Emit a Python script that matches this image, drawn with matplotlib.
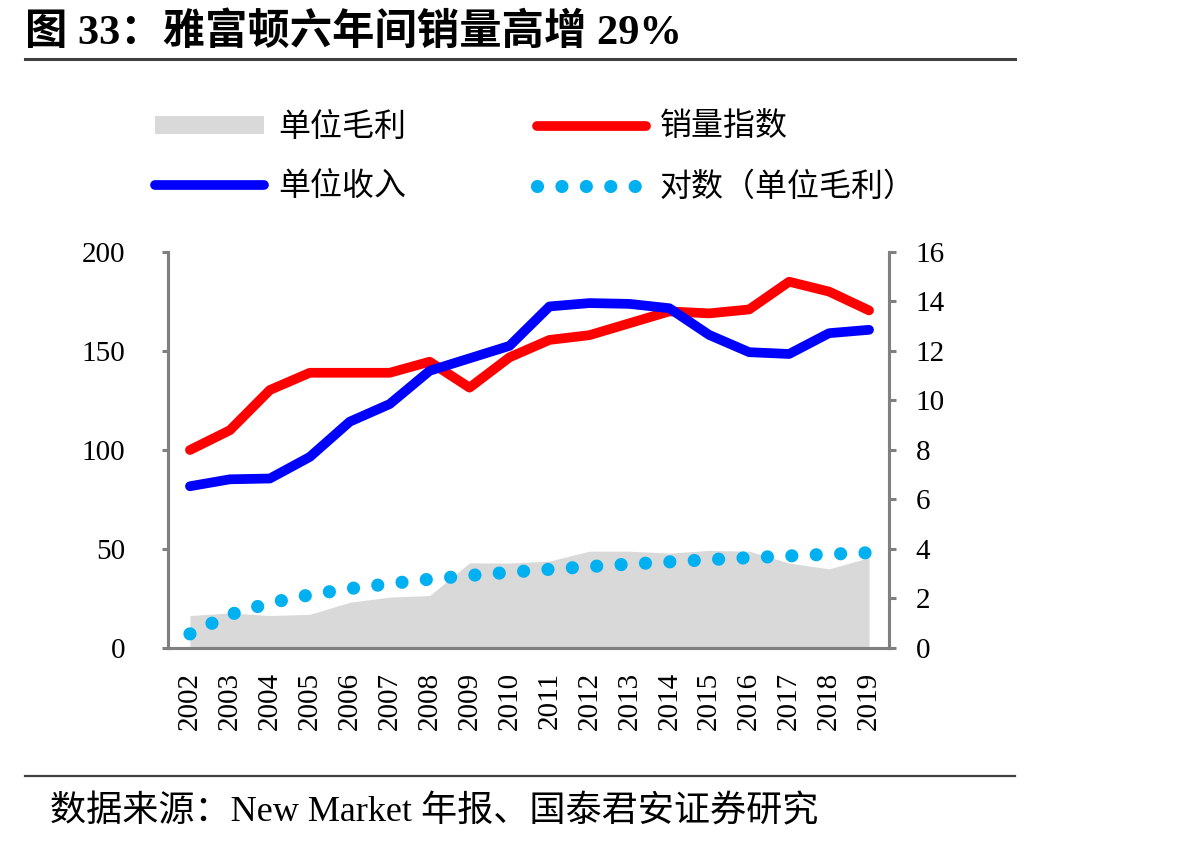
import matplotlib
matplotlib.use('Agg')
import matplotlib.pyplot as plt
import matplotlib.patches as mpatches
from matplotlib.lines import Line2D
import numpy as np

plt.rcParams['font.family'] = ['Liberation Serif', 'Noto Sans CJK SC', 'DejaVu Sans']

years = [str(y) for y in range(2002, 2020)]
# 单位毛利 (left axis)
gross_margin = [16.4, 17.7, 16.4, 17.0, 23.1, 25.7, 26.5, 43.0, 42.9, 43.9,
                48.9, 48.9, 47.9, 49.3, 48.9, 42.9, 40.0, 45.6]
# 销量指数 (left axis)
sales_index = [100, 110, 130.3, 139, 139, 139, 144.6, 131.5, 146.8, 155.6,
               158, 164, 170, 169, 171, 185, 180, 170.5]
# 单位收入 (left axis)
unit_revenue = [81.7, 85.2, 85.6, 96.5, 114.3, 123.2, 140, 146.3, 152.6, 172.5,
                174.2, 173.8, 171.6, 158.1, 149.4, 148.5, 159, 160.7]
# 对数(单位毛利) trendline
log_trend = [0.57, 1.35, 1.82, 2.15, 2.40, 2.60, 2.78, 2.93, 3.06, 3.18,
             3.29, 3.39, 3.48, 3.57, 3.65, 3.72, 3.79, 3.85]

GRAY = '#D9D9D9'
RED = '#FF0000'
BLUE = '#0000FF'
CYAN = '#00B0F0'
AXC = '#808080'

fig = plt.figure(figsize=(11.87, 8.43), dpi=100)
ax = fig.add_axes([168/1187, 1 - 648/843, (889-168)/1187, (648-252)/843])
ax2 = ax.twinx()

x = np.arange(len(years))
ax.fill_between(x, 0, gross_margin, color=GRAY, lw=0, zorder=1)
ax.plot(x, sales_index, color=RED, lw=7, solid_capstyle='round',
        solid_joinstyle='round', zorder=3)
ax.plot(x, unit_revenue, color=BLUE, lw=7, solid_capstyle='round',
        solid_joinstyle='round', zorder=4)
ax2.plot(x, log_trend, color=CYAN, lw=9.5, linestyle=(0, (0.001, 1.85)),
         dash_capstyle='round')

ax.set_xlim(-0.55, 17.5)
ax.set_ylim(0, 200)
ax2.set_ylim(0, 16)
ax.set_yticks(range(0, 201, 50))
ax2.set_yticks(range(0, 17, 2))
ax.set_xticks(x)
ax.set_xticklabels(years, rotation=90, fontsize=21)

for a in (ax, ax2):
    for s in a.spines.values():
        s.set_color(AXC)
        s.set_linewidth(2.2)
    a.spines['top'].set_visible(False)
ax.tick_params(axis='y', direction='out', length=4, width=2.2, color=AXC,
               labelsize=21, pad=27)
ax2.tick_params(axis='y', direction='out', length=5, width=2.2, color=AXC,
                labelsize=21, pad=14)
ax.tick_params(axis='x', length=0, pad=17)

handles = [mpatches.Patch(color=GRAY, lw=0),
           Line2D([], [], color=BLUE, lw=7, solid_capstyle='round'),
           Line2D([], [], color=RED, lw=7, solid_capstyle='round'),
           Line2D([], [], color=CYAN, lw=9.5, linestyle=(0, (0.001, 1.85)),
                  dash_capstyle='round')]
labels = ['单位毛利', '单位收入', '销量指数', '对数（单位毛利）']
fig.legend(handles, labels, loc='upper left', bbox_to_anchor=(155/1187, 1 - 113/843),
           ncol=2, frameon=False, fontsize=23, handlelength=3.4, handleheight=0.5,
           handletextpad=0.45, columnspacing=4.1, labelspacing=0.92,
           borderpad=0, borderaxespad=0)

fig.text(25/1187, 1 - 33/843, '图 33：雅富顿六年间销量高增 29%', fontsize=30.5,
         fontweight='bold', va='center', ha='left')
fig.add_artist(Line2D([25/1187, 1015/1187], [1 - 59/843, 1 - 59/843],
                      color='#404040', lw=2.2))
fig.add_artist(Line2D([25/1187, 1015/1187], [1 - 776/843, 1 - 776/843],
                      color='#404040', lw=1.6))
fig.text(50/1187, 1 - 812/843, '数据来源：New Market 年报、国泰君安证券研究',
         fontsize=26, va='center', ha='left')

fig.savefig('out.png', dpi=100)
